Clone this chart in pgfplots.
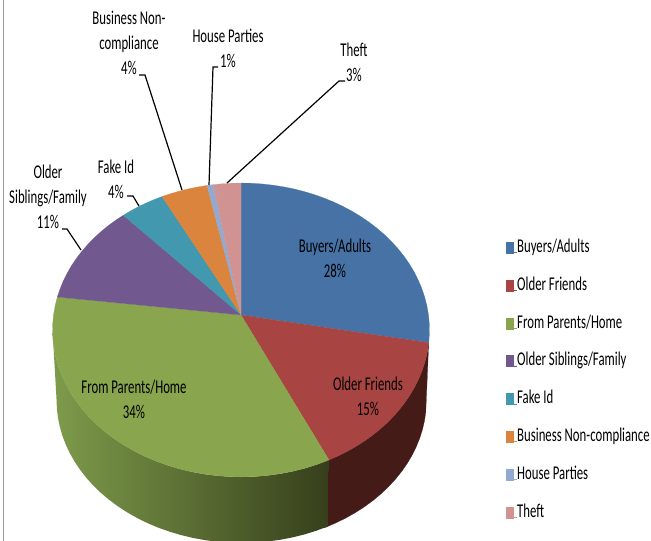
\documentclass[border=0pt]{standalone}
\usepackage{pgfplots}
\usepackage{pgfplotstable}
\pgfplotsset{compat=1.18}
\usepackage{fontspec}
\setmainfont[FakeStretch=0.655]{Carlito}

\definecolor{sliceBlue}{HTML}{4672A6}
\definecolor{sliceRed}{HTML}{A84442}
\definecolor{sliceGreen}{HTML}{89A54E}
\definecolor{slicePurple}{HTML}{71588F}
\definecolor{sliceTeal}{HTML}{4198AF}
\definecolor{sliceOrange}{HTML}{DB843D}
\definecolor{sliceSky}{HTML}{93A9CF}
\definecolor{slicePink}{HTML}{D19392}
\definecolor{wallRed}{HTML}{451B18}
\definecolor{wallGreenA}{HTML}{7E9B4B}
\definecolor{wallGreenB}{HTML}{363F1B}
\definecolor{leaderGrey}{HTML}{999999}

% Shares of each source, in percent
\pgfplotstableread[col sep=comma]{
name,share,colour
Buyers/Adults,28,sliceBlue
Older Friends,15,sliceRed
From Parents/Home,34,sliceGreen
Older Siblings/Family,11.2,slicePurple
Fake Id,4.2,sliceTeal
Business Non-compliance,4.4,sliceOrange
House Parties,0.6,sliceSky
Theft,2.6,slicePink
}\pieshares

% Perspective view of the disc: percent clockwise from the top -> picture position
\newcommand\rimpoint[1]{%
  \pgfmathsetmacro\rimS{sin(3.6*(#1))}%
  \pgfmathsetmacro\rimC{cos(3.6*(#1))}%
  \pgfmathsetmacro\rimD{1+0.102*\rimC}%
  \pgfmathsetmacro\rimX{241+187.5*\rimS/\rimD}%
  \pgfmathsetmacro\rimY{(315-113.3*\rimC)/\rimD}%
}
% The lower rim of the wall is the upper rim, slightly smaller and lowered
\newcommand\lowerpoint[1]{%
  \rimpoint{#1}%
  \pgfmathsetmacro\rimX{241.5+(\rimX-241)*0.98143}%
  \pgfmathsetmacro\rimY{400+(\rimY-330)*0.97279}%
}
% Appends the rim between two percentages to \rimlist; #1 picks the rim
\newcommand\appendrim[3]{%
  \pgfmathsetmacro\rimN{max(2,ceil(abs(#3-#2)))}%
  \pgfmathtruncatemacro\rimN{\rimN}%
  \foreach \k in {0,...,\rimN}{%
    \pgfmathsetmacro\rimP{#2+(#3-#2)*\k/\rimN}%
    #1{\rimP}%
    \xdef\rimlist{\rimlist (\rimX,\rimY)}%
  }%
}

\begin{document}
\begin{tikzpicture}
\useasboundingbox (0,0) rectangle (651pt,541pt);
\begin{axis}[
  at={(0,0)}, anchor=south west,
  width=651pt, height=541pt, scale only axis,
  xmin=0, xmax=651, ymin=0, ymax=541, y dir=reverse,
  hide axis, no markers,
  legend image code/.code={\fill[#1] (0pt,-0.5pt) rectangle (7pt,10.5pt); \path (0pt,0pt) -- (11pt,0pt);},
  legend cell align=left,
  legend style={
    at={(axis cs:506,240.5)}, anchor=north west, draw=none, fill=none,
    inner sep=0pt, outer sep=0pt, row sep=20.8pt,
    font=\fontsize{19.5}{19.5}\selectfont,
    nodes={inner sep=0pt, outer sep=0pt, anchor=base west, text height=12pt, text depth=5pt},
  },
]
% Frame line on the left
\addplot[leaderGrey, line width=1.3pt, forget plot] coordinates {(3.8,0) (3.8,541)};

% Outer wall of the disc; the red part runs a little under the green part
\gdef\rimlist{}
\appendrim{\lowerpoint}{28}{43.3}
\appendrim{\rimpoint}{43.3}{28}
\edef\tmp{\noexpand\addplot[fill=wallRed, draw=wallRed, line width=0.2pt, forget plot] coordinates {\rimlist} -- cycle;}
\tmp
\gdef\rimlist{}
\appendrim{\lowerpoint}{43}{73.4}
\appendrim{\rimpoint}{73.4}{43}
\edef\tmp{\noexpand\addplot[shade, left color=wallGreenA, right color=wallGreenB, draw=none, forget plot] coordinates {\rimlist} -- cycle;}
\tmp

% Top face, one wedge for each row of the table
\gdef\sharesum{0}
\pgfplotsforeachungrouped \i in {0,...,7}{
  \pgfplotstablegetelem{\i}{share}\of\pieshares \let\thisshare\pgfplotsretval
  \pgfplotstablegetelem{\i}{colour}\of\pieshares \let\thiscolour\pgfplotsretval
  \pgfplotstablegetelem{\i}{name}\of\pieshares \let\thisname\pgfplotsretval
  \pgfmathsetmacro\shareend{\sharesum+\thisshare}
  \gdef\rimlist{(241,315)}
  \appendrim{\rimpoint}{\sharesum}{\shareend}
  \xdef\sharesum{\shareend}
  \edef\tmp{\noexpand\addplot[fill=\thiscolour, draw=\thiscolour, line width=0.2pt] coordinates {\rimlist} -- cycle;
    \noexpand\addlegendentry{\thisname}}
  \tmp
}

% Leader lines
\addplot[black, line width=1.2pt, forget plot] coordinates {(62,229) (67,229) (81,250)};
\addplot[black, line width=1.2pt, forget plot] coordinates {(127,196) (133,196) (139,206)};
\addplot[black, line width=1.2pt, forget plot] coordinates {(139,75) (145,75) (182,190)};
\addplot[black, line width=1.2pt, forget plot] coordinates {(218,67) (213,67) (209,185)};
\addplot[black, line width=1.2pt, forget plot] coordinates {(345,81) (339,81) (227,183)};

% Data labels
\begin{scope}[every node/.style={font=\fontsize{19.5}{25}\selectfont, align=center, inner sep=0pt}]
\node at (axis cs:129,43) {Business Non-\\compliance\\4\%};
\node at (axis cs:228,48) {House Parties\\1\%};
\node at (axis cs:354,62) {Theft\\3\%};
\node at (axis cs:116,179) {Fake Id\\4\%};
\node at (axis cs:48,197) {Older\\Siblings/Family\\11\%};
\node at (axis cs:335,258) {Buyers/Adults\\28\%};
\node at (axis cs:368,396) {Older Friends\\15\%};
\node at (axis cs:134,399) {From Parents/Home\\34\%};
\end{scope}
\end{axis}
\end{tikzpicture}
\end{document}
